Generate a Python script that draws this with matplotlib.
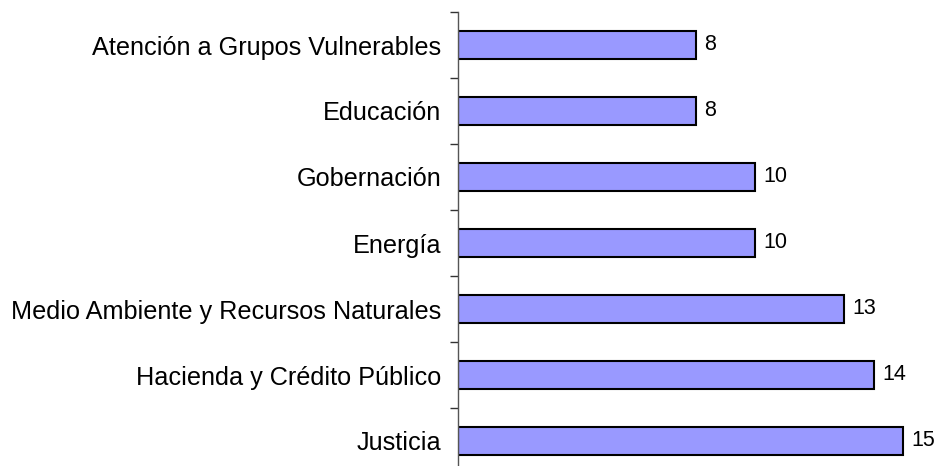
import matplotlib
matplotlib.use("Agg")
import matplotlib.pyplot as plt
import numpy as np

categorias = [
    "Atención a Grupos Vulnerables",
    "Educación",
    "Gobernación",
    "Energía",
    "Medio Ambiente y Recursos Naturales",
    "Hacienda y Crédito Público",
    "Justicia",
]
valores = [8, 8, 10, 10, 13, 14, 15]

plt.rcParams["font.family"] = ["Liberation Sans", "DejaVu Sans"]

fig = plt.figure(figsize=(9.36, 4.66), dpi=100)
# axes extends a little below the figure, like the original crop
ax = fig.add_axes([458 / 936, 1 - 474 / 466, 478 / 936, 462 / 466])

y = np.arange(len(categorias))
ax.barh(y, valores, height=0.41, color="#9999FF", edgecolor="black", linewidth=1.5)

for yi, v in zip(y, valores):
    ax.text(v + 0.28, yi, str(v), va="center", ha="left", fontsize=15.5)

ax.set_ylim(len(categorias) - 0.5, -0.5)
ax.set_xlim(0, 16.1)

ax.set_yticks(y)
ax.set_yticklabels(categorias, fontsize=18.2)
ax.tick_params(axis="y", which="major", length=0, pad=12)
ax.set_yticks(np.arange(-0.5, len(categorias), 1), minor=True)
ax.tick_params(axis="y", which="minor", length=6, width=1, color="#333333")

ax.set_xticks([])
for side in ["top", "right", "bottom"]:
    ax.spines[side].set_visible(False)
ax.spines["left"].set_color("#555555")
ax.spines["left"].set_linewidth(1)

fig.savefig("out.png", dpi=100)
